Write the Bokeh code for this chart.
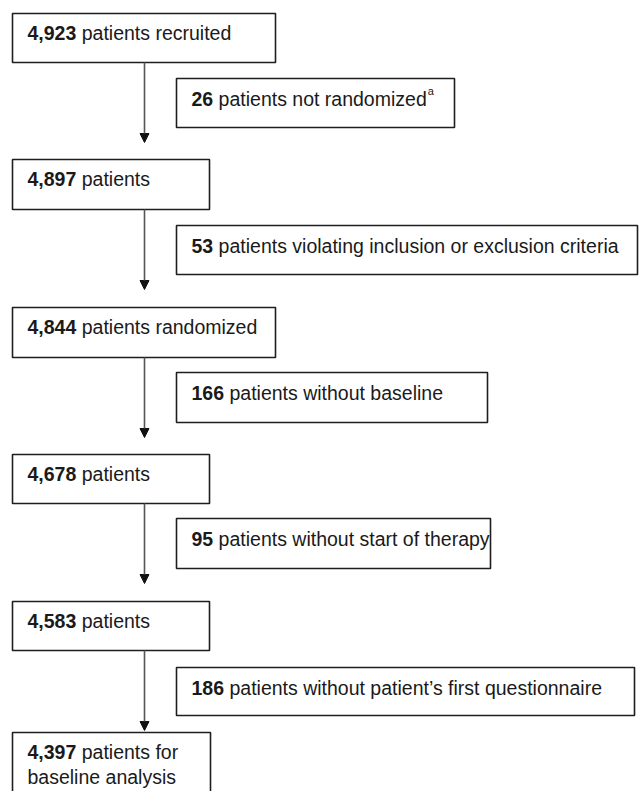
from bokeh.plotting import figure
from bokeh.models import Range1d, Arrow, NormalHead, ColumnDataSource
from bokeh.core.properties import value
from bokeh.embed import file_html
from bokeh.resources import INLINE

# ---- data ----
main_counts = [4923, 4897, 4844, 4678, 4583, 4397]
main_labels = ["patients recruited", "patients", "patients randomized",
               "patients", "patients", "patients for"]
main_second_line = ["", "", "", "", "", "baseline analysis"]
excl_counts = [26, 53, 166, 95, 186]
excl_labels = ["patients not randomized",
               "patients violating inclusion or exclusion criteria",
               "patients without baseline",
               "patients without start of therapy",
               "patients without patient\u2019s first questionnaire"]
excl_notes = ["a", "", "", "", ""]

# ---- layout (pixel coordinates, y downwards) ----
W, H = 639, 791
main_left = 12
main_top = [13, 159, 307, 454, 601, 732]
main_bottom = [62, 209, 357, 503, 650, 810]
main_right = [275, 209, 275, 209, 209, 210]
side_left = 176
side_top = [78, 225, 372, 518, 667]
side_bottom = [127, 274, 422, 568, 715]
side_right = [454, 637, 487, 490, 634]
arrow_x = 144
arrow_end = [142, 289, 437, 583, 730]
pad = 15
base_off = 20
line2 = 25
FS = 19.5
FONT = "Liberation Sans"
TXT = "#1a1a1a"
BORDER = "#1e1e1e"

REG = {' ': .278, 'a': .556, 'b': .556, 'c': .5, 'd': .556, 'e': .556, 'f': .278,
       'g': .556, 'h': .556, 'i': .222, 'j': .222, 'k': .5, 'l': .222, 'm': .833,
       'n': .556, 'o': .556, 'p': .556, 'q': .556, 'r': .333, 's': .5, 't': .278,
       'u': .556, 'v': .5, 'w': .722, 'x': .5, 'y': .5, 'z': .5, '\u2019': .222}


def bold_w(s):
    return sum(.278 if c in ", " else .556 for c in s) * FS


def reg_w(s):
    return sum(REG.get(c, .556) for c in s) * FS


p = figure(width=W, height=H, output_backend="svg", toolbar_location=None,
           x_range=Range1d(0, W), y_range=Range1d(H, 0), min_border=0)
p.axis.visible = False
p.grid.visible = False
p.outline_line_color = None
p.background_fill_color = "white"
p.border_fill_color = "white"

# arrows
asrc = ColumnDataSource(dict(x0=[arrow_x] * 5, y0=main_bottom[:5],
                             x1=[arrow_x] * 5, y1=arrow_end))
p.add_layout(Arrow(x_start="x0", y_start="y0", x_end="x1", y_end="y1", source=asrc,
                   line_color="#555555", line_width=1.6,
                   end=NormalHead(size=9, fill_color="#111111", line_color="#111111",
                                  line_width=1)))

# boxes
p.quad(left=[main_left] * 6, right=main_right, top=main_top, bottom=main_bottom,
       fill_color="white", line_color=BORDER, line_width=1.6)
p.quad(left=[side_left] * 5, right=side_right, top=side_top, bottom=side_bottom,
       fill_color="white", line_color=BORDER, line_width=1.6)

# texts
bx, by, bt, rx, ry, rt = [], [], [], [], [], []
sx, sy, st = [], [], []
for i, n in enumerate(main_counts):
    num = f"{n:,}"
    y = main_top[i] + base_off - 1
    bx.append(main_left + pad); by.append(y); bt.append(num)
    rx.append(main_left + pad + bold_w(num + " ")); ry.append(y); rt.append(main_labels[i])
    if main_second_line[i]:
        rx.append(main_left + pad); ry.append(y + line2); rt.append(main_second_line[i])
for i, n in enumerate(excl_counts):
    num = f"{n:,}"
    y = side_top[i] + base_off
    bx.append(side_left + pad); by.append(y); bt.append(num)
    x2 = side_left + pad + bold_w(num + " ")
    rx.append(x2); ry.append(y); rt.append(excl_labels[i])
    if excl_notes[i]:
        sx.append(x2 + reg_w(excl_labels[i]) + 1); sy.append(y - 8); st.append(excl_notes[i])

p.text(x=bx, y=by, text=bt, text_font=value(FONT), text_font_style="bold",
       text_font_size=f"{FS}px", text_color=TXT, text_baseline="alphabetic",
       text_align="left")
p.text(x=rx, y=ry, text=rt, text_font=value(FONT), text_font_size=f"{FS}px",
       text_color=TXT, text_baseline="alphabetic", text_align="left")
p.text(x=sx, y=sy, text=st, text_font=value(FONT), text_font_size="11px",
       text_color=TXT, text_baseline="alphabetic", text_align="left")

open("out.html", "w").write(file_html(p, INLINE))
